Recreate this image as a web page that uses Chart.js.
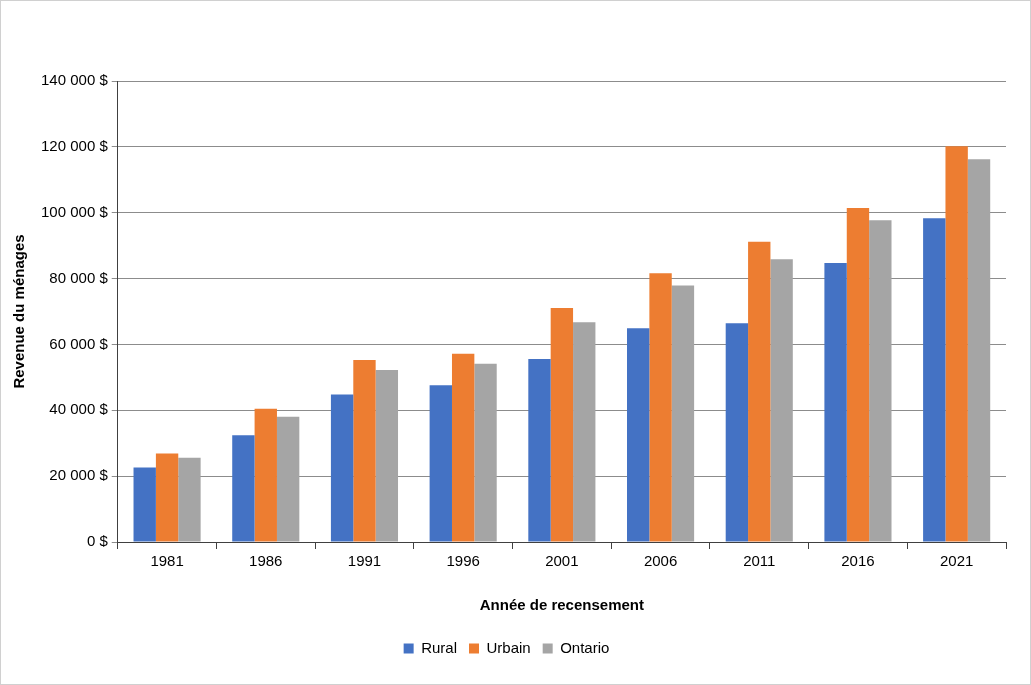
<!DOCTYPE html>
<html>
<head>
<meta charset="utf-8">
<script src="https://cdn.jsdelivr.net/npm/chart.js@4.4.0/dist/chart.umd.min.js"></script>
<style>
  html, body { margin: 0; padding: 0; background: #fff; }
  #wrap { width: 1029px; height: 683px; border: 1px solid #d0d0d0; }
</style>
</head>
<body>
<div id="wrap"><canvas id="chart" width="1029" height="683"></canvas></div>
<script>
const years = ['1981', '1986', '1991', '1996', '2001', '2006', '2011', '2016', '2021'];
const rural = [22600, 32400, 44800, 47600, 55600, 64900, 66400, 84700, 98300];
const urbain = [26900, 40500, 55300, 57200, 71100, 81600, 91200, 101400, 120200];
const ontario = [25600, 38000, 52200, 54100, 66700, 77900, 85900, 97700, 116200];

const font = { family: 'Liberation Sans, Arial, sans-serif', size: 15 };

const fmt = v => v.toString().replace(/\B(?=(\d{3})+(?!\d))/g, ' ') + ' $';

new Chart(document.getElementById('chart'), {
    type: 'bar',
    data: {
        labels: years,
        datasets: [
            { label: 'Rural', data: rural, backgroundColor: '#4472c4' },
            { label: 'Urbain', data: urbain, backgroundColor: '#ed7d31' },
            { label: 'Ontario', data: ontario, backgroundColor: '#a5a5a5' }
        ]
    },
    options: {
        responsive: false,
        animation: false,
        layout: { padding: { left: 6, top: 80, right: 24, bottom: 18 } },
        datasets: { bar: { categoryPercentage: 0.68, barPercentage: 1 } },
        scales: {
            x: {
                grid: { drawOnChartArea: false, drawTicks: true, tickLength: 7, color: '#404040' },
                border: { color: '#404040' },
                ticks: { color: '#000', font: font, padding: 4 },
                title: { display: true, text: 'Année de recensement', color: '#000',
                         font: { ...font, weight: 'bold' }, padding: { top: 22, bottom: 14 } }
            },
            y: {
                min: 0, max: 140000,
                ticks: { stepSize: 20000, color: '#000', font: font, callback: fmt, padding: 4 },
                grid: { color: '#8c8c8c', tickLength: 6, lineWidth: 1 },
                border: { color: '#404040' },
                title: { display: true, text: 'Revenue du ménages', color: '#000',
                         font: { ...font, weight: 'bold' }, padding: { bottom: 8 } }
            }
        },
        plugins: {
            legend: {
                position: 'bottom',
                labels: { color: '#000', font: font, boxWidth: 10, boxHeight: 10, padding: 12 }
            },
            tooltip: { enabled: false }
        }
    }
});
</script>
</body>
</html>
